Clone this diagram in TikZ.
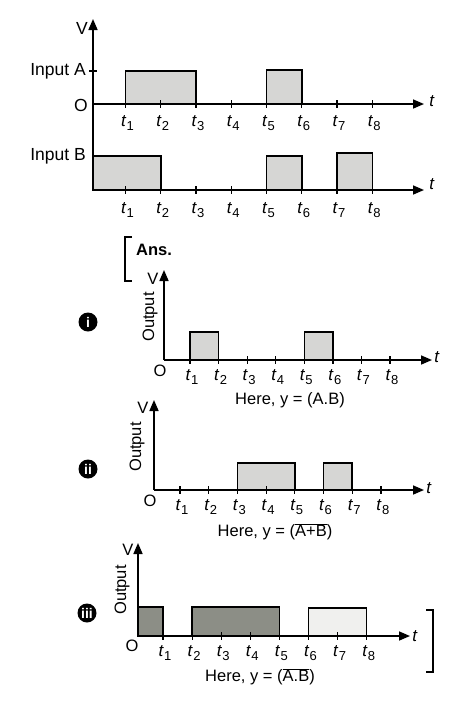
\documentclass[tikz,border=0pt]{standalone}
\usepackage{fontspec}
\setmainfont{Liberation Sans}
\usetikzlibrary{arrows.meta}
\newcommand{\tk}[1]{\textit{t}\kern0.3pt\raisebox{-4.5pt}{\fontsize{13}{13}\selectfont #1}}
\tikzset{
  axis/.style={line width=1.6pt,-{Triangle[length=11pt,width=9pt]}},
  vaxis/.style={line width=1.6pt,-{Triangle[length=11pt,width=9pt]}},
  pulse/.style={line width=1.5pt,draw=black,fill=lightfill},
  darkpulse/.style={line width=1.5pt,draw=black,fill=darkfill},
  palepulse/.style={line width=1.5pt,draw=black,fill=palefill},
  tick/.style={line width=1.2pt},
  lbl/.style={inner sep=0pt,font=\fontsize{16.5}{19}\selectfont},
  inlbl/.style={inner sep=0pt,font=\fontsize{17.5}{19}\selectfont},
  tlbl/.style={inner sep=0pt,font=\fontsize{17}{19}\selectfont},
  roman/.style={circle,fill=black,text=white,inner sep=0pt,minimum size=19pt,font=\fontsize{14}{14}\selectfont\bfseries},
  brk/.style={line width=1.3pt}
}
\definecolor{lightfill}{RGB}{214,214,212}
\definecolor{darkfill}{RGB}{140,142,134}
\definecolor{palefill}{RGB}{240,240,238}
\begin{document}
\begin{tikzpicture}[x=1pt,y=-1pt]
\useasboundingbox[fill=white] (0,0) rectangle (474,705);

% ================= Top chart: inputs A and B =================
\coordinate (Otop) at (93,104);
\coordinate (Vtop) at (93,19);
\coordinate (Bbase) at (93,190);
\coordinate (Aend) at (424,104);
\coordinate (Bend) at (424,190);
% pulses A
\draw[pulse] (125.5,104) rectangle (196,71);
\draw[pulse] (266.5,104) rectangle (301.75,70);
% pulses B
\draw[pulse] (93,190) rectangle (160.75,156);
\draw[pulse] (266.5,190) rectangle (301.75,156);
\draw[pulse] (337,190) rectangle (372.25,153);
% axes
\draw[line width=1.6pt] (Bbase) -- (Otop);
\draw[vaxis] (Otop) -- (Vtop);
\draw[axis] (Otop) -- (Aend);
\draw[axis] (Bbase) -- (Bend);
\draw[tick] (89,71) -- (97,71);
\foreach \i/\x in {1/125.5,2/160.75,3/196,4/231.25,5/266.5,6/301.75,7/337,8/372.25}{
  \draw[tick] (\x,100) -- (\x,108);
  \draw[tick] (\x,186) -- (\x,194);
  \node[tlbl] (ta\i) at (\x+2,123) {\tk{\i}};
  \node[tlbl] (tb\i) at (\x+2,210) {\tk{\i}};
}
\node[inlbl] (Vt) at (82,28) {V};
\node[inlbl,anchor=east] (inA) at (86,71) {Input A};
\node[inlbl,anchor=east] (Ot) at (88,105) {O};
\node[inlbl,anchor=east] (inB) at (86,156) {Input B};
\node[tlbl] (tA) at (432,101) {\textit{t}};
\node[tlbl] (tB) at (432,184) {\textit{t}};

% ================= Ans bracket =================
\coordinate (ba) at (132,237);
\coordinate (bb) at (125,237);
\coordinate (bc) at (125,281);
\coordinate (bd) at (132,281);
\draw[brk] (ba) -- (bb) -- (bc) -- (bd);
\node[lbl,anchor=west,font=\fontsize{16.5}{19}\selectfont\bfseries] (ans) at (136,250) {Ans.};

% ================= Chart (i) =================
\coordinate (O1) at (164,360);
\coordinate (V1) at (164,270);
\coordinate (E1) at (432,360);
\draw[pulse] (190,360) rectangle (218.6,332);
\draw[pulse] (304.3,360) rectangle (332.9,332);
\draw[vaxis] (O1) -- (V1);
\draw[axis] (O1) -- (E1);
\foreach \i/\x in {1/190,2/218.6,3/247.1,4/275.7,5/304.3,6/332.9,7/361.4,8/390}{
  \draw[tick] (\x,356) -- (\x,364);
  \node[tlbl] (tc\i) at (\x+2,377) {\tk{\i}};
}
\node[lbl] (Vi) at (153,279) {V};
\node[lbl,rotate=90] (outi) at (150,317) {Output};
\node[lbl] (Oi) at (160,371) {O};
\node[tlbl] (ti) at (437,357) {\textit{t}};
\node[roman] (ri) at (88,322) {i};
\node[lbl] (capi) at (290,400) {Here, y = (A.B)};

% ================= Chart (ii) =================
\coordinate (O2) at (154,490);
\coordinate (V2) at (154,400);
\coordinate (E2) at (424,490);
\draw[pulse] (237.4,490) rectangle (294.8,463);
\draw[pulse] (323.5,490) rectangle (352.2,463);
\draw[vaxis] (O2) -- (V2);
\draw[axis] (O2) -- (E2);
\foreach \i/\x in {1/180,2/208.7,3/237.4,4/266.1,5/294.8,6/323.5,7/352.2,8/380.9}{
  \draw[tick] (\x,486) -- (\x,494);
  \node[tlbl] (td\i) at (\x+2,507) {\tk{\i}};
}
\node[lbl] (Vii) at (143,408) {V};
\node[lbl,rotate=90] (outii) at (137,447) {Output};
\node[lbl] (Oii) at (150,501) {O};
\node[tlbl] (tii) at (429,488) {\textit{t}};
\node[roman] (rii) at (88,469) {ii};
\node[lbl] (capii) at (275,532) {Here, y = ($\overline{\mbox{A+B}}$)};

% ================= Chart (iii) =================
\coordinate (O3) at (138,636);
\coordinate (V3) at (138,543);
\coordinate (E3) at (410,636);
\draw[darkpulse] (138,636) rectangle (163,607);
\draw[darkpulse] (192.1,636) rectangle (279.4,607);
\draw[palepulse] (308.5,636) rectangle (366.7,608);
\draw[vaxis] (O3) -- (V3);
\draw[axis] (O3) -- (E3);
\foreach \i/\x in {1/163,2/192.1,3/221.2,4/250.3,5/279.4,6/308.5,7/337.6,8/366.7}{
  \draw[tick] (\x,632) -- (\x,640);
  \node[tlbl] (te\i) at (\x+2,653) {\tk{\i}};
}
\node[lbl] (Viii) at (128,550) {V};
\node[lbl,rotate=90] (outiii) at (122,590) {Output};
\node[lbl] (Oiii) at (132,646) {O};
\node[tlbl] (tiii) at (415,636) {\textit{t}};
\node[roman] (riii) at (87,613) {iii};
\node[lbl] (capiii) at (260,677) {Here, y = ($\overline{\mbox{A.B}}$)};
\coordinate (ra) at (426,610);
\coordinate (rb) at (433,610);
\coordinate (rc) at (433,672);
\coordinate (rd) at (426,672);
\draw[brk] (ra) -- (rb) -- (rc) -- (rd);
\end{tikzpicture}
\end{document}
